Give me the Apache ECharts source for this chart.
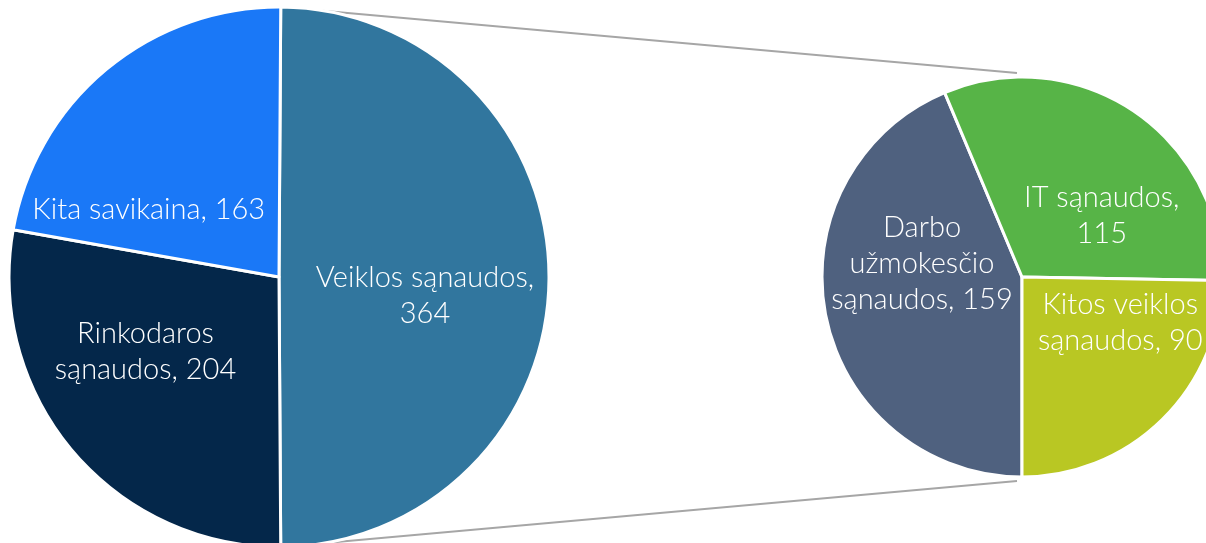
<!DOCTYPE html>
<html>
<head>
<meta charset="utf-8">
<script src="https://cdn.jsdelivr.net/npm/echarts@6/dist/echarts.min.js"></script>
<style>
  html, body { margin: 0; padding: 0; background: #fff; }
  #main { width: 1206px; height: 543px; }
</style>
</head>
<body>
<div id="main"></div>
<script>
// pagrindinis pyragas
var mainNames = ['Veiklos sąnaudos', 'Rinkodaros sąnaudos', 'Kita savikaina'];
var mainValues = [364, 204, 163];
var mainFormats = ['{b},\n{c}', 'Rinkodaros\nsąnaudos, {c}', '{b}, {c}'];
var mainColors = ['#31769e', '#04274a', '#1a78f7'];
var mainOffsets = [[8, 19], [-28, -14], [-42, 39]];

// išskaidytos veiklos sąnaudos
var subNames = ['Darbo užmokesčio sąnaudos', 'IT sąnaudos', 'Kitos veiklos sąnaudos'];
var subValues = [159, 115, 90];
var subFormats = ['Darbo\nužmokesčio\nsąnaudos, {c}', '{b},\n{c}', 'Kitos veiklos\nsąnaudos, {c}'];
var subColors = ['#4f617f', '#57b447', '#b9c723'];
var subOffsets = [[1, -34], [22, 24], [26, -28]];

var c1 = [279, 277], r1 = 270;
var c2 = [1022, 277], r2 = 200;

function total(arr) {
    var s = 0;
    for (var i = 0; i < arr.length; i++) s += arr[i];
    return s;
}

// pirmas gabalas centruojamas į dešinę (3 val.)
var firstAngle = mainValues[0] / total(mainValues) * 360;
var mainStart = firstAngle / 2;

function buildData(names, values, formats, colors, offsets) {
    var out = [];
    for (var i = 0; i < names.length; i++) {
        out.push({
            name: names[i],
            value: values[i],
            itemStyle: { color: colors[i] },
            label: { formatter: formats[i], offset: offsets[i] }
        });
    }
    return out;
}

var labelStyle = {
    show: true,
    position: 'inside',
    color: '#ffffff',
    fontFamily: 'Lato',
    fontWeight: 300,
    fontSize: 29,
    lineHeight: 36,
    align: 'center'
};

// jungiamosios linijos
var a = mainStart * Math.PI / 180;
var topStart = [c1[0] + r1 * Math.cos(a), c1[1] - r1 * Math.sin(a)];
var botStart = [topStart[0], c1[1] + r1 * Math.sin(a)];
var topEnd = [c2[0] - 5, c2[1] - r2 - 4];
var botEnd = [c2[0] - 5, c2[1] + r2 + 4];

var myChart = echarts.init(document.getElementById('main'));
var option = {
    animation: false,
    backgroundColor: '#ffffff',
    graphic: [
        { type: 'line', z: -1, shape: { x1: topStart[0], y1: topStart[1], x2: topEnd[0], y2: topEnd[1] },
          style: { stroke: '#a6a6a6', lineWidth: 2 } },
        { type: 'line', z: -1, shape: { x1: botStart[0], y1: botStart[1], x2: botEnd[0], y2: botEnd[1] },
          style: { stroke: '#a6a6a6', lineWidth: 2 } }
    ],
    series: [
        {
            type: 'pie',
            center: c1,
            radius: r1,
            startAngle: 90 - (180 - firstAngle) / 2,
            clockwise: true,
            avoidLabelOverlap: false,
            itemStyle: { borderColor: '#ffffff', borderWidth: 3 },
            label: labelStyle,
            labelLine: { show: false },
            emphasis: { disabled: true },
            data: buildData(mainNames, mainValues, mainFormats, mainColors, mainOffsets)
        },
        {
            type: 'pie',
            center: c2,
            radius: r2,
            startAngle: -90,
            clockwise: true,
            avoidLabelOverlap: false,
            itemStyle: { borderColor: '#ffffff', borderWidth: 3 },
            label: labelStyle,
            labelLine: { show: false },
            emphasis: { disabled: true },
            data: buildData(subNames, subValues, subFormats, subColors, subOffsets)
        }
    ]
};
myChart.setOption(option);
</script>
</body>
</html>
